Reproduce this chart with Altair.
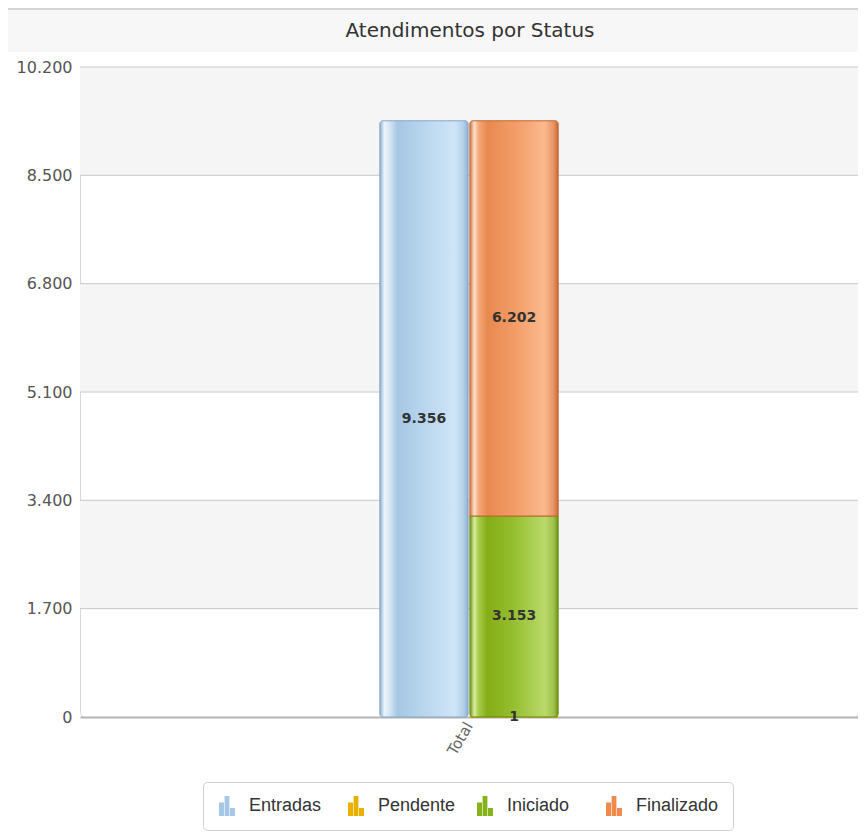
import altair as alt
import pandas as pd

TITLE = "Atendimentos por Status"
categories = ["Total", "Total", "Total", "Total"]
series = ["Entradas", "Pendente", "Iniciado", "Finalizado"]
groups = ["Entradas", "Status", "Status", "Status"]
values = [9356, 1, 3153, 6202]
order = [0, 1, 2, 3]
solid_colors = ["#a6c8e6", "#e8b100", "#86b31c", "#f08a4b"]
y_ticks = [0, 1700, 3400, 5100, 6800, 8500, 10200]
band_lo = [1700, 5100, 8500]
band_hi = [3400, 6800, 10200]

W, H = 778, 650

df = pd.DataFrame({"cat": categories, "series": series, "group": groups,
                   "value": values, "ord": order})
bands = pd.DataFrame({"lo": band_lo, "hi": band_hi})
grid = pd.DataFrame({"v": y_ticks[1:]})
decor = pd.DataFrame({"t": [TITLE]})

fmt = "replace(format(datum.value, ','), ',', '.')"

yscale = alt.Scale(domain=[0, 10200], nice=False, zero=True)
xenc = alt.X("cat:N", scale=alt.Scale(paddingInner=0, paddingOuter=1),
             axis=alt.Axis(title=None, labelAngle=300, labelAlign="right",
                           labelBaseline="middle", ticks=False, labelPadding=6,
                           labelFont="DejaVu Sans", labelFontSize=15,
                           labelColor="#666", domainColor="#b4b4b4",
                           domainWidth=2))
xoff = alt.XOffset("group:N", scale=alt.Scale(paddingInner=0.02, paddingOuter=0.45),
                   sort=["Entradas", "Status"])


def grad(stops):
    return {"gradient": "linear", "x1": 0, "x2": 1, "y1": 0, "y2": 0,
            "stops": [{"offset": o, "color": c} for o, c in stops]}


grads = {
    "Entradas": (grad([(0, "#8eafcf"), (0.05, "#eaf3fa"), (0.1, "#dbe9f5"),
                       (0.2, "#a6c7e3"), (0.5, "#b9d6ee"), (0.85, "#cfe5f7"),
                       (0.95, "#b2cfe8"), (1, "#8eafcf")]), "#86a8c8", 3, 3),
    "Pendente": (grad([(0, "#c99a00"), (0.1, "#f5d060"), (0.5, "#e8b100"),
                       (1, "#c99a00")]), "#c99a00", 0, 0),
    "Iniciado": (grad([(0, "#6c9510"), (0.05, "#d8eda2"), (0.1, "#a6cb48"),
                       (0.2, "#84ad17"), (0.5, "#96bf30"), (0.85, "#bad96c"),
                       (0.95, "#9fc24c"), (1, "#6c9510")]), "#6b8f14", 0, 3),
    "Finalizado": (grad([(0, "#d4743c"), (0.05, "#fde2cf"), (0.1, "#f4a878"),
                         (0.2, "#e8894f"), (0.5, "#f29c66"), (0.85, "#fbb98e"),
                         (0.95, "#e99263"), (1, "#c86a32")]), "#c2662f", 3, 0),
}

base = alt.Chart(df).transform_stack(
    stack="value", groupby=["cat", "group"], as_=["y0", "y1"],
    sort=[alt.SortField("ord", order="ascending")]
)

band_layer = alt.Chart(bands).mark_rect(color="#f5f5f5").encode(
    y=alt.Y("lo:Q", scale=yscale), y2="hi:Q")
grid_layer = alt.Chart(grid).mark_rule(color="#c8c8c8", strokeWidth=1).encode(
    y=alt.Y("v:Q", scale=yscale))

legend_path = ("M-0.8,1 L-0.8,-0.35 L-0.3,-0.35 L-0.3,1 Z "
               "M-0.24,1 L-0.24,-1 L0.24,-1 L0.24,1 Z "
               "M0.3,1 L0.3,0.2 L0.8,0.2 L0.8,1 Z")

legend_layer = base.mark_bar(strokeWidth=0).encode(
    x=xenc, xOffset=xoff,
    y=alt.Y("y0:Q", scale=yscale,
            axis=alt.Axis(title=None, values=y_ticks, labelExpr=fmt, grid=False,
                          ticks=False, domain=False, labelPadding=8,
                          labelFont="DejaVu Sans", labelFontSize=16,
                          labelColor="#555")),
    y2="y0:Q",
    color=alt.Color("series:N",
                    scale=alt.Scale(domain=series, range=solid_colors),
                    sort=series,
                    legend=alt.Legend(title=None, orient="none", direction="horizontal",
                                      legendX=123, legendY=715, columns=4,
                                      gridAlign="all", symbolType=legend_path,
                                      symbolSize=400, symbolStrokeWidth=0,
                                      labelFont="Liberation Sans", labelFontSize=18,
                                      labelColor="#333", labelOffset=12,
                                      columnPadding=14, padding=14,
                                      strokeColor="#d0d0d0", fillColor="#ffffff",
                                      cornerRadius=4)),
)

bar_layers = []
for s in series:
    g, stroke, rt, rb = grads[s]
    bar_layers.append(
        base.transform_filter(alt.datum.series == s).mark_bar(
            fill=g, stroke=stroke, strokeWidth=1,
            cornerRadiusTopLeft=rt, cornerRadiusTopRight=rt,
            cornerRadiusBottomLeft=rb, cornerRadiusBottomRight=rb,
        ).encode(x=xenc, xOffset=xoff, y=alt.Y("y0:Q", scale=yscale), y2="y1:Q")
    )

text_layer = base.transform_calculate(
    mid="(datum.y0 + datum.y1) / 2",
    label=fmt,
).mark_text(font="DejaVu Sans", fontSize=14, fontWeight="bold", color="#333",
            baseline="middle").encode(
    x=xenc, xOffset=xoff, y=alt.Y("mid:Q", scale=yscale), text="label:N")

title_band = alt.Chart(decor).mark_rect(color="#f7f7f7").encode(
    x=alt.value(-72), x2=alt.value(W), y=alt.value(-57), y2=alt.value(-15))
title_line = alt.Chart(decor).mark_rule(color="#d4d4d4", strokeWidth=2).encode(
    x=alt.value(-72), x2=alt.value(W), y=alt.value(-58))
title_text = alt.Chart(decor).mark_text(
    font="DejaVu Sans", fontSize=20, color="#333",
    align="center", baseline="middle").encode(
    x=alt.value(390), y=alt.value(-36), text="t:N")

chart = alt.layer(
    title_band, title_line, band_layer, grid_layer, legend_layer,
    *bar_layers, text_layer, title_text
).properties(
    width=W, height=H,
    autosize=alt.AutoSizeParams(type="none"),
    padding={"left": 72, "top": 59, "right": 0, "bottom": 115},
).configure_view(stroke="#d8d8d8", cornerRadius=5, fill="#ffffff")

chart.save("out.html", embed_options={"renderer": "svg", "actions": False})
